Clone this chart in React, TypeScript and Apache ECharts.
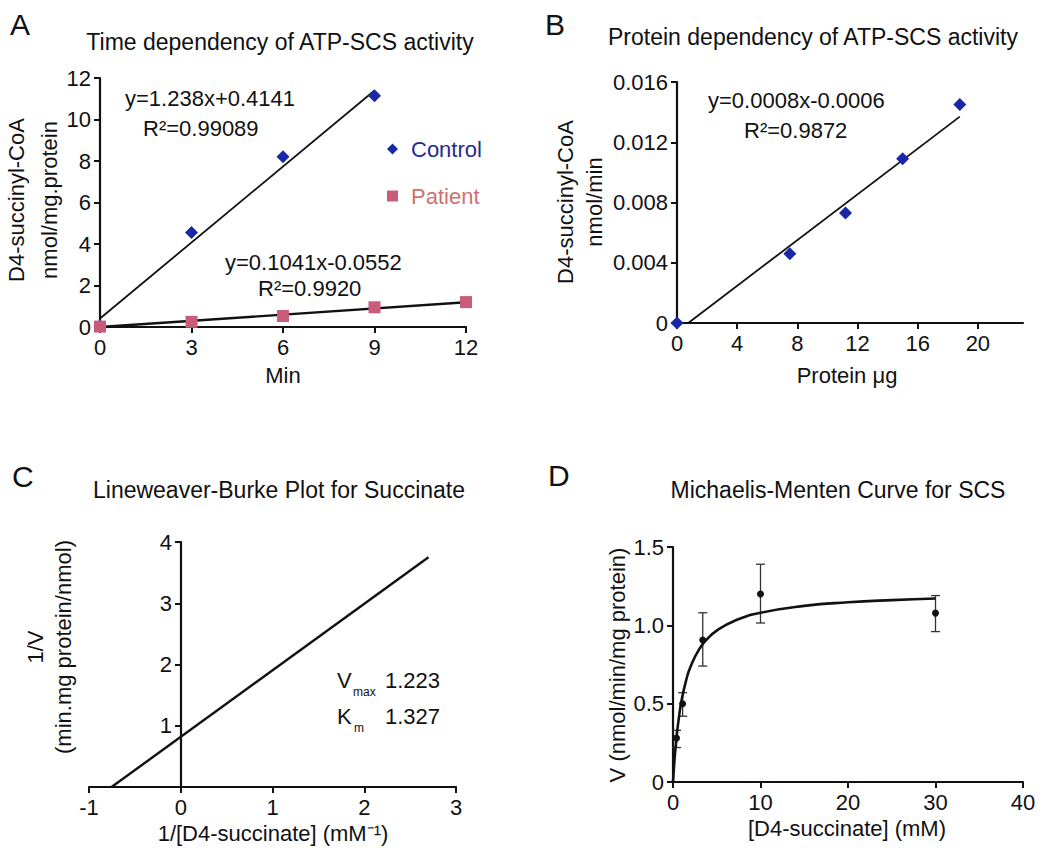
import React, { useEffect, useRef } from "react";
import * as echarts from "echarts";

// Panel A: time dependency
const timeMin = [0, 3, 6, 9, 12];
const controlX = [0, 3, 6, 9];
const controlY = [0.05, 4.55, 8.2, 11.15];
const patientY = [0.02, 0.25, 0.53, 0.95, 1.2];
const controlFitX = [0, 9];
const controlFitY = [0.41, 11.4];
const patientFitX = [0, 12];
const patientFitY = [0, 1.19];

// Panel B: protein dependency
const proteinX = [0, 7.5, 11.2, 15, 18.8];
const proteinY = [0, 0.0046, 0.0073, 0.0109, 0.0145];
const proteinFitX = [0.75, 18.8];
const proteinFitY = [0, 0.0137];
const proteinTicks = [0, 4, 8, 12, 16, 20];

// Panel C: Lineweaver-Burk line
const lbX = [-0.754, 2.7];
const lbY = [0, 3.75];

// Panel D: Michaelis-Menten
const mmS = [0.4, 1.1, 3.4, 10, 30];
const mmV = [0.28, 0.5, 0.906, 1.2, 1.078];
const mmLow = [0.22, 0.42, 0.74, 1.015, 0.96];
const mmHigh = [0.33, 0.57, 1.08, 1.39, 1.19];
const mmCurveS = [0, 0.2, 0.4, 0.7, 1, 1.5, 2, 3, 4, 5, 7, 10, 15, 20, 25, 30];
const mmCurveV = [0, 0.16, 0.283, 0.422, 0.526, 0.649, 0.735, 0.848, 0.918, 0.966, 1.028, 1.08, 1.124, 1.147, 1.161, 1.171];

const FONT = "'Liberation Sans', Arial, Helvetica, sans-serif";
const INK = "#111111";
const CONTROL_C = "#1a28a8";
const PATIENT_C = "#c95c78";

const zip = (a: number[], b: number[]) => a.map((v, i) => [v, b[i]]);

export default function App() {
  const ref = useRef<HTMLDivElement>(null);
  useEffect(() => {
    if (!ref.current) return;
    const chart = echarts.init(ref.current, null, { renderer: "svg" });

    const axisCommon = {
      axisLine: { show: true, onZero: false, lineStyle: { color: INK, width: 2.2 } },
      axisTick: { show: true, length: 6, lineStyle: { color: INK, width: 2 } },
      axisLabel: { color: INK, fontSize: 22, fontFamily: FONT, margin: 9 },
      splitLine: { show: false },
    };

    const txt = (text: string, x: number, y: number, opts: any = {}) => ({
      type: "text",
      x,
      y,
      rotation: opts.rotation || 0,
      style: {
        text,
        fill: opts.fill || INK,
        font: `${opts.size || 22}px ${FONT}`,
        textAlign: opts.align || "left",
        textVerticalAlign: "middle",
        lineHeight: opts.lineHeight,
      },
    });

    const gridBase = { containLabel: false, outerBoundsMode: "none" };

    const option: any = {
      animation: false,
      backgroundColor: "#ffffff",
      grid: [
        { ...gridBase, left: 100, top: 78, width: 366, height: 249 },
        { ...gridBase, left: 677, top: 82, width: 346, height: 241 },
        { ...gridBase, left: 89, top: 542, width: 367, height: 245 },
        { ...gridBase, left: 673, top: 547, width: 350, height: 235 },
        // Panel C vertical axis placed at x = 0
        { ...gridBase, left: 181, top: 542, width: 275, height: 245 },
      ],
      xAxis: [
        { ...axisCommon, type: "value", gridIndex: 0, min: 0, max: 12, interval: 3 },
        {
          ...axisCommon,
          type: "value",
          gridIndex: 1,
          min: 0,
          max: 23,
          interval: 4,
          axisTick: { ...axisCommon.axisTick, customValues: proteinTicks },
          axisLabel: { ...axisCommon.axisLabel, customValues: proteinTicks },
        },
        { ...axisCommon, type: "value", gridIndex: 2, min: -1, max: 3, interval: 1 },
        { ...axisCommon, type: "value", gridIndex: 3, min: 0, max: 40, interval: 10 },
        { type: "value", gridIndex: 4, min: 0, max: 3, show: false },
      ],
      yAxis: [
        { ...axisCommon, type: "value", gridIndex: 0, min: 0, max: 12, interval: 2 },
        { ...axisCommon, type: "value", gridIndex: 1, min: 0, max: 0.016, interval: 0.004 },
        { type: "value", gridIndex: 2, min: 0, max: 4, interval: 1, show: false },
        {
          ...axisCommon,
          type: "value",
          gridIndex: 3,
          min: 0,
          max: 1.5,
          interval: 0.5,
          axisLabel: {
            ...axisCommon.axisLabel,
            formatter: (v: number) => (v === 0 ? "0" : v.toFixed(1)),
          },
        },
        {
          ...axisCommon,
          type: "value",
          gridIndex: 4,
          min: 0,
          max: 4,
          interval: 1,
          axisLabel: { ...axisCommon.axisLabel, showMinLabel: false },
        },
      ],
      legend: {
        orient: "vertical",
        left: 382,
        top: 133,
        itemGap: 25,
        itemWidth: 11,
        itemHeight: 11,
        selectedMode: false,
        textStyle: { fontSize: 22, fontFamily: FONT, padding: [0, 0, 0, 8] },
        data: [
          { name: "Control", icon: "diamond", itemStyle: { color: CONTROL_C, opacity: 1 }, textStyle: { color: "#252b8c" } },
          { name: "Patient", icon: "rect", itemStyle: { color: PATIENT_C, opacity: 1 }, textStyle: { color: "#cf6f72" } },
        ],
      },
      series: [
        {
          type: "line",
          name: "Control fit",
          xAxisIndex: 0,
          yAxisIndex: 0,
          data: zip(controlFitX, controlFitY),
          symbol: "none",
          lineStyle: { color: INK, width: 1.8 },
          z: 2,
        },
        {
          type: "line",
          name: "Patient fit",
          xAxisIndex: 0,
          yAxisIndex: 0,
          data: zip(patientFitX, patientFitY),
          symbol: "none",
          lineStyle: { color: INK, width: 2.4 },
          z: 2,
        },
        {
          type: "scatter",
          name: "Control",
          xAxisIndex: 0,
          yAxisIndex: 0,
          data: zip(controlX, controlY),
          symbol: "diamond",
          symbolSize: 13,
          itemStyle: { color: CONTROL_C, opacity: 1 },
          clip: false,
          z: 3,
        },
        {
          type: "scatter",
          name: "Patient",
          xAxisIndex: 0,
          yAxisIndex: 0,
          data: zip(timeMin, patientY),
          symbol: "rect",
          symbolSize: 12,
          itemStyle: { color: PATIENT_C, opacity: 1 },
          clip: false,
          z: 4,
        },
        {
          type: "line",
          name: "Protein fit",
          xAxisIndex: 1,
          yAxisIndex: 1,
          data: zip(proteinFitX, proteinFitY),
          symbol: "none",
          lineStyle: { color: INK, width: 1.8 },
          z: 2,
        },
        {
          type: "scatter",
          name: "Protein",
          xAxisIndex: 1,
          yAxisIndex: 1,
          data: zip(proteinX, proteinY),
          symbol: "diamond",
          symbolSize: 13,
          itemStyle: { color: CONTROL_C, opacity: 1 },
          clip: false,
          z: 3,
        },
        {
          type: "line",
          name: "Lineweaver-Burk",
          xAxisIndex: 2,
          yAxisIndex: 2,
          data: zip(lbX, lbY),
          symbol: "none",
          lineStyle: { color: INK, width: 2.4 },
          z: 2,
        },
        {
          type: "custom",
          name: "Error",
          xAxisIndex: 3,
          yAxisIndex: 3,
          data: mmS.map((s, i) => [s, mmLow[i], mmHigh[i]]),
          renderItem: (params: any, api: any) => {
            const x = api.value(0);
            const lo = api.coord([x, api.value(1)]);
            const hi = api.coord([x, api.value(2)]);
            const w = 4.5;
            const st = { stroke: "#333", lineWidth: 1.3 };
            return {
              type: "group",
              children: [
                { type: "line", shape: { x1: lo[0], y1: lo[1], x2: hi[0], y2: hi[1] }, style: st },
                { type: "line", shape: { x1: lo[0] - w, y1: lo[1], x2: lo[0] + w, y2: lo[1] }, style: st },
                { type: "line", shape: { x1: hi[0] - w, y1: hi[1], x2: hi[0] + w, y2: hi[1] }, style: st },
              ],
            };
          },
          z: 2,
        },
        {
          type: "line",
          name: "MM fit",
          xAxisIndex: 3,
          yAxisIndex: 3,
          data: zip(mmCurveS, mmCurveV),
          symbol: "none",
          smooth: true,
          lineStyle: { color: INK, width: 2.6 },
          z: 3,
        },
        {
          type: "scatter",
          name: "MM data",
          xAxisIndex: 3,
          yAxisIndex: 3,
          data: zip(mmS, mmV),
          symbol: "circle",
          symbolSize: 7,
          itemStyle: { color: "#111", opacity: 1 },
          z: 4,
        },
      ],
      graphic: [
        // Panel A
        txt("A", 10, 24, { size: 30 }),
        txt("Time dependency of ATP-SCS activity", 280, 42, { align: "center", size: 23 }),
        txt("D4-succinyl-CoA\nnmol/mg.protein", 33, 200, { align: "center", rotation: Math.PI / 2, lineHeight: 33 }),
        txt("Min", 283, 375, { align: "center" }),
        txt("y=1.238x+0.4141", 125, 98),
        txt("R²=0.99089", 143, 128),
        txt("y=0.1041x-0.0552", 225, 262),
        txt("R²=0.9920", 258, 288),
        // Panel B
        txt("B", 545, 24, { size: 30 }),
        txt("Protein dependency of ATP-SCS activity", 813, 37, { align: "center", size: 23 }),
        txt("D4-succinyl-CoA\nnmol/min", 580, 202, { align: "center", rotation: Math.PI / 2, lineHeight: 29 }),
        txt("Protein μg", 847, 375, { align: "center" }),
        txt("y=0.0008x-0.0006", 708, 100),
        txt("R²=0.9872", 744, 130),
        // Panel C
        txt("C", 12, 476, { size: 30 }),
        txt("Lineweaver-Burke Plot for Succinate", 279, 490, { align: "center", size: 23 }),
        txt("1/V\n(min.mg protein/nmol)", 49, 647, { align: "center", rotation: Math.PI / 2, lineHeight: 28 }),
        txt("1/[D4-succinate] (mM⁻¹)", 273, 833, { align: "center" }),
        txt("V", 337, 680),
        txt("max", 353, 692, { size: 12 }),
        txt("1.223", 385, 680),
        txt("K", 337, 716),
        txt("m", 354, 728, { size: 12 }),
        txt("1.327", 385, 716),
        // Panel D
        txt("D", 548, 475, { size: 30 }),
        txt("Michaelis-Menten Curve for SCS", 838, 490, { align: "center", size: 23 }),
        txt("V (nmol/min/mg protein)", 617, 665, { align: "center", rotation: Math.PI / 2 }),
        txt("[D4-succinate] (mM)", 847, 828, { align: "center" }),
      ],
    };

    chart.setOption(option);
    return () => chart.dispose();
  }, []);

  return (
    <div
      ref={ref}
      style={{ position: "fixed", left: 0, top: 0, width: 1050, height: 853, background: "#fff" }}
    />
  );
}
